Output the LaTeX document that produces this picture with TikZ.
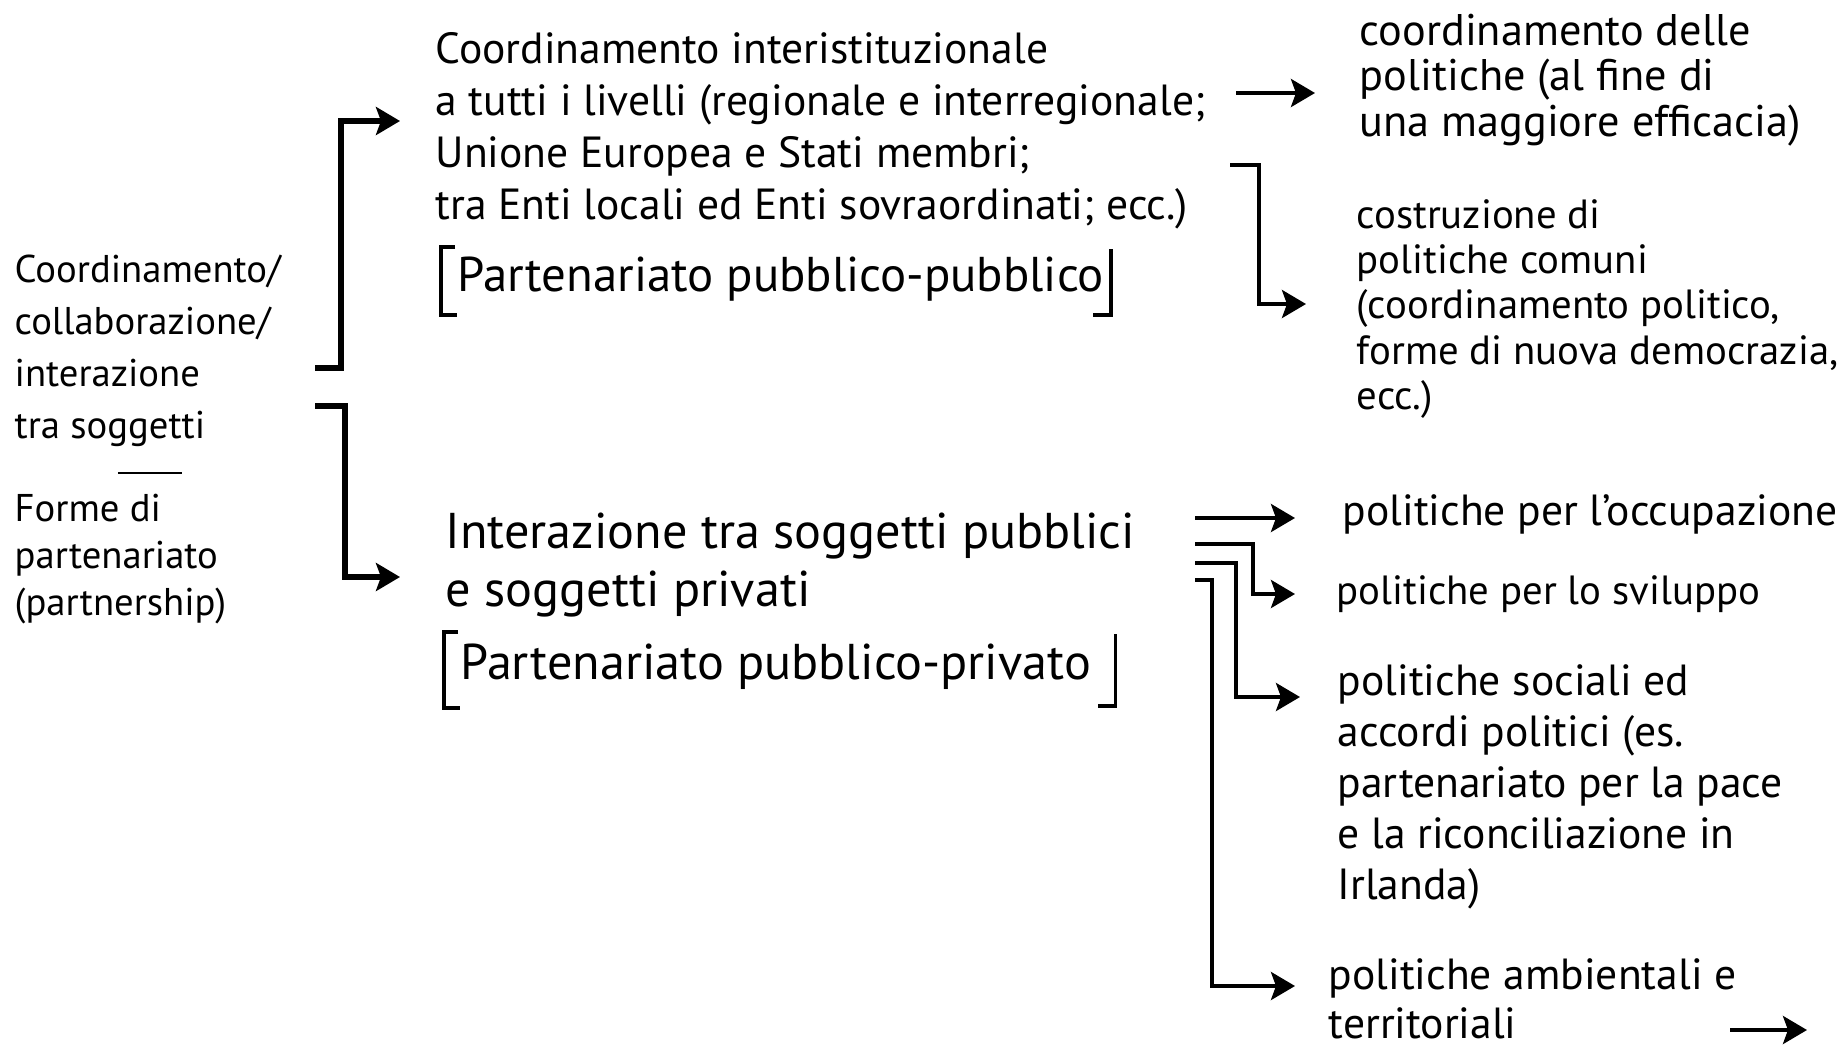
\documentclass[tikz,border=0pt]{standalone}
\usepackage{fontspec}
\setmainfont{PT Sans}
\usetikzlibrary{arrows.meta}

\begin{document}
\begin{tikzpicture}
    \tikzset{%
      txt/.style={align=left, inner sep=0pt, anchor=west,
        font=\fontsize{12.4}{14.8}\selectfont},
      small/.style={font=\fontsize{11}{14.8}\selectfont},
      tight/.style={font=\fontsize{12.6}{12.9}\selectfont},
      big/.style={font=\fontsize{14.3}{16.5}\selectfont},
      arr/.style={-{Stealth[length=2.4mm,width=2.8mm,inset=0.5mm]},
        line width=1.1pt},
      fork/.style={line width=1.7pt},
      brk/.style={line width=1pt},
    }
    \useasboundingbox (0,0) rectangle (18.46,-10.56);

    % left column
    \node[txt, small] (soggetti) at (0.14,-3.51)
      {Coordinamento/\\collaborazione/\\interazione\\tra soggetti};
    \draw (1.18,-4.73) -- (1.82,-4.73);
    \node[txt, small, font=\fontsize{11}{13.4}\selectfont] (forme) at (0.14,-5.59)
      {Forme di\\partenariato\\(partnership)};

    % middle column
    \node[txt] (interist) at (4.35,-1.31)
      {Coordinamento interistituzionale\\a tutti i livelli (regionale e interregionale;\\Unione Europea e Stati membri;\\tra Enti locali ed Enti sovraordinati; ecc.)};
    \node[txt, big, font=\fontsize{13.9}{16.5}\selectfont] (pubpub) at (4.57,-2.79)
      {Partenariato pubblico-pubblico};
    \node[txt, big] (interaz) at (4.45,-5.65)
      {Interazione tra soggetti pubblici\\e soggetti privati};
    \node[txt, big] (pubpriv) at (4.60,-6.67) {Partenariato pubblico-privato};

    % right column
    \node[txt, tight] (efficacia) at (13.59,-0.80)
      {coordinamento delle\\politiche (al fine di\\una maggiore efficacia)};
    \node[txt, font=\fontsize{11.6}{12.9}\selectfont] (comuni) at (13.56,-3.09)
      {costruzione di\\politiche comuni\\(coordinamento politico,\\forme di nuova democrazia,\\ecc.)};
    \node[txt] (occup) at (13.42,-5.14) {politiche per l'occupazione};
    \node[txt, font=\fontsize{11.6}{14}\selectfont] (svil) at (13.36,-5.94)
      {politiche per lo sviluppo};
    \node[txt, font=\fontsize{12.4}{14.5}\selectfont] (sociali) at (13.37,-7.87)
      {politiche sociali ed\\accordi politici (es.\\partenariato per la pace\\e la riconciliazione in\\Irlanda)};
    \node[txt, font=\fontsize{12.4}{13.9}\selectfont] (ambient) at (13.28,-9.99)
      {politiche ambientali e\\territoriali};

    % brackets
    \draw[brk] ([shift={(-0.02,0.32)}]pubpub.west) -- ++(-0.14,0)
      -- ++(0,-0.68) -- ++(0.16,0);
    \draw[brk] ([shift={(0.06,0.30)}]pubpub.east) -- ++(0,-0.66) -- ++(-0.18,0);
    \draw[brk] ([shift={(-0.02,0.35)}]pubpriv.west) -- ++(-0.14,0)
      -- ++(0,-0.76) -- ++(0.16,0);
    \draw[brk] ([shift={(0.24,0.33)}]pubpriv.east) -- ++(0,-0.72) -- ++(-0.18,0);

    % fork from the left column
    \coordinate (f1) at (3.15,-3.68);
    \coordinate (f2) at (3.15,-4.06);
    \draw[arr, fork] (f1) -- ++(0.26,0) |- ([shift={(-0.35,0.10)}]interist.west);
    \draw[arr, fork] (f2) -- ++(0.30,0) |- ([shift={(-0.45,-0.12)}]interaz.west);

    % upper right
    \coordinate (u1) at (12.36,-0.93);
    \coordinate (u2) at (12.30,-1.65);
    \draw[arr] (u1) -- ([xshift=-4.4mm]efficacia.west |- u1);
    \draw[arr] (u2) -- ++(0.29,0) |- ([shift={(-0.50,0.05)}]comuni.west);

    % lower right
    \coordinate (s1) at (11.95,-5.18);
    \coordinate (s2) at (11.95,-5.44);
    \coordinate (s3) at (11.95,-5.63);
    \coordinate (s4) at (11.95,-5.80);
    \draw[arr] (s1) -- ([xshift=-4.7mm]occup.west |- s1);
    \draw[arr] (s2) -- ++(0.58,0) |- ([xshift=-4.1mm]svil.west);
    \draw[arr] (s3) -- ++(0.41,0) |- ([shift={(-0.37,0.90)}]sociali.west);
    \draw[arr] (s4) -- ++(0.17,0) |- ([shift={(-0.33,0.13)}]ambient.west);

    \coordinate (e1) at (17.30,-10.30);
    \coordinate (e2) at (18.07,-10.30);
    \draw[arr] (e1) -- (e2);
\end{tikzpicture}
\end{document}
